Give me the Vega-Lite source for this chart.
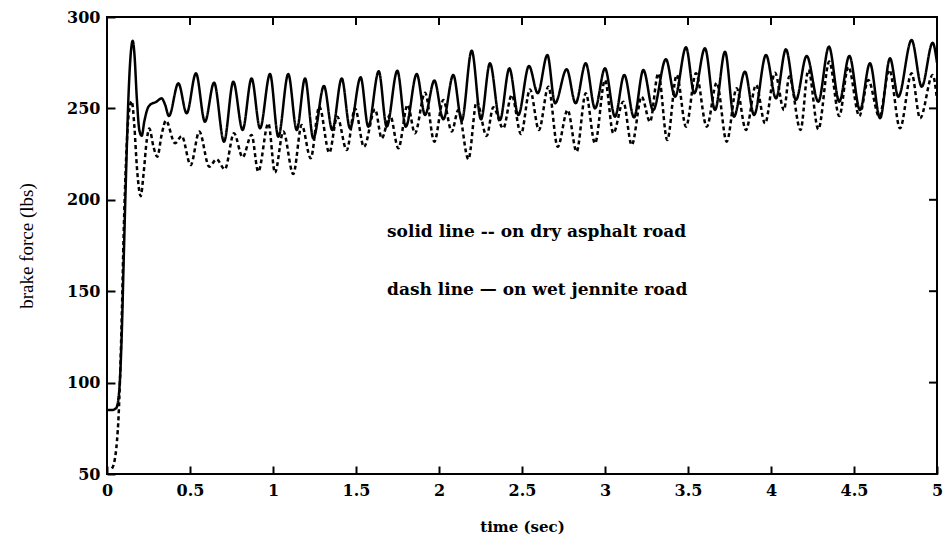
{
  "$schema": "https://vega.github.io/schema/vega-lite/v6.json",
  "width": 830,
  "height": 457,
  "autosize": "none",
  "padding": {"left": 107, "top": 17, "right": 8, "bottom": 66},
  "background": "white",
  "config": {
    "view": {"stroke": "black", "strokeWidth": 2},
    "axis": {
      "grid": false,
      "domain": false,
      "ticks": true,
      "offset": -8,
      "tickColor": "black",
      "tickOpacity": 1,
      "tickWidth": 2,
      "tickSize": 8,
      "labelColor": "black",
      "labelFont": "DejaVu Serif",
      "labelFontWeight": "bold",
      "labelFontSize": 16,
      "titleColor": "black"
    }
  },
  "datasets": {
    "force": [
      {"t": 0, "v": 85, "road": "dry asphalt"},
      {"t": 0.03, "v": 85, "road": "dry asphalt"},
      {"t": 0.055, "v": 86, "road": "dry asphalt"},
      {"t": 0.07, "v": 92, "road": "dry asphalt"},
      {"t": 0.08, "v": 105, "road": "dry asphalt"},
      {"t": 0.09, "v": 130, "road": "dry asphalt"},
      {"t": 0.1, "v": 165, "road": "dry asphalt"},
      {"t": 0.115, "v": 215, "road": "dry asphalt"},
      {"t": 0.13, "v": 258, "road": "dry asphalt"},
      {"t": 0.145, "v": 282, "road": "dry asphalt"},
      {"t": 0.155, "v": 287, "road": "dry asphalt"},
      {"t": 0.165, "v": 280, "road": "dry asphalt"},
      {"t": 0.18, "v": 255, "road": "dry asphalt"},
      {"t": 0.195, "v": 238, "road": "dry asphalt"},
      {"t": 0.209, "v": 235, "road": "dry asphalt"},
      {"t": 0.225, "v": 243, "road": "dry asphalt"},
      {"t": 0.245, "v": 250, "road": "dry asphalt"},
      {"t": 0.26, "v": 252, "road": "dry asphalt"},
      {"t": 0.295, "v": 253.5, "road": "dry asphalt"},
      {"t": 0.329, "v": 255.5, "road": "dry asphalt"},
      {"t": 0.35, "v": 252, "road": "dry asphalt"},
      {"t": 0.373, "v": 245.8, "road": "dry asphalt"},
      {"t": 0.43, "v": 263.7, "road": "dry asphalt"},
      {"t": 0.48, "v": 247.3, "road": "dry asphalt"},
      {"t": 0.536, "v": 269.2, "road": "dry asphalt"},
      {"t": 0.59, "v": 242.7, "road": "dry asphalt"},
      {"t": 0.645, "v": 264.1, "road": "dry asphalt"},
      {"t": 0.705, "v": 231.8, "road": "dry asphalt"},
      {"t": 0.761, "v": 264.6, "road": "dry asphalt"},
      {"t": 0.817, "v": 238.2, "road": "dry asphalt"},
      {"t": 0.871, "v": 266.4, "road": "dry asphalt"},
      {"t": 0.922, "v": 239.1, "road": "dry asphalt"},
      {"t": 0.982, "v": 268.8, "road": "dry asphalt"},
      {"t": 1.032, "v": 234.5, "road": "dry asphalt"},
      {"t": 1.092, "v": 268.8, "road": "dry asphalt"},
      {"t": 1.143, "v": 238.2, "road": "dry asphalt"},
      {"t": 1.193, "v": 266.4, "road": "dry asphalt"},
      {"t": 1.243, "v": 233.6, "road": "dry asphalt"},
      {"t": 1.307, "v": 262.3, "road": "dry asphalt"},
      {"t": 1.357, "v": 238.2, "road": "dry asphalt"},
      {"t": 1.414, "v": 266.4, "road": "dry asphalt"},
      {"t": 1.464, "v": 239.1, "road": "dry asphalt"},
      {"t": 1.528, "v": 267, "road": "dry asphalt"},
      {"t": 1.574, "v": 240, "road": "dry asphalt"},
      {"t": 1.637, "v": 270.3, "road": "dry asphalt"},
      {"t": 1.685, "v": 240, "road": "dry asphalt"},
      {"t": 1.749, "v": 270.6, "road": "dry asphalt"},
      {"t": 1.8, "v": 240, "road": "dry asphalt"},
      {"t": 1.866, "v": 268.8, "road": "dry asphalt"},
      {"t": 1.916, "v": 246.4, "road": "dry asphalt"},
      {"t": 1.972, "v": 265.2, "road": "dry asphalt"},
      {"t": 2.026, "v": 244, "road": "dry asphalt"},
      {"t": 2.086, "v": 268.3, "road": "dry asphalt"},
      {"t": 2.137, "v": 243.3, "road": "dry asphalt"},
      {"t": 2.197, "v": 281.6, "road": "dry asphalt"},
      {"t": 2.253, "v": 244, "road": "dry asphalt"},
      {"t": 2.307, "v": 274.7, "road": "dry asphalt"},
      {"t": 2.367, "v": 243.6, "road": "dry asphalt"},
      {"t": 2.424, "v": 271.9, "road": "dry asphalt"},
      {"t": 2.478, "v": 246.4, "road": "dry asphalt"},
      {"t": 2.542, "v": 273.2, "road": "dry asphalt"},
      {"t": 2.595, "v": 258.3, "road": "dry asphalt"},
      {"t": 2.653, "v": 279.2, "road": "dry asphalt"},
      {"t": 2.699, "v": 252.8, "road": "dry asphalt"},
      {"t": 2.769, "v": 271.4, "road": "dry asphalt"},
      {"t": 2.823, "v": 252.8, "road": "dry asphalt"},
      {"t": 2.884, "v": 274.7, "road": "dry asphalt"},
      {"t": 2.94, "v": 250, "road": "dry asphalt"},
      {"t": 3.0, "v": 271.9, "road": "dry asphalt"},
      {"t": 3.06, "v": 245.5, "road": "dry asphalt"},
      {"t": 3.116, "v": 268.3, "road": "dry asphalt"},
      {"t": 3.175, "v": 245.1, "road": "dry asphalt"},
      {"t": 3.231, "v": 271, "road": "dry asphalt"},
      {"t": 3.29, "v": 249, "road": "dry asphalt"},
      {"t": 3.367, "v": 276.9, "road": "dry asphalt"},
      {"t": 3.422, "v": 256.4, "road": "dry asphalt"},
      {"t": 3.488, "v": 283.4, "road": "dry asphalt"},
      {"t": 3.538, "v": 258.3, "road": "dry asphalt"},
      {"t": 3.602, "v": 282.9, "road": "dry asphalt"},
      {"t": 3.663, "v": 249.1, "road": "dry asphalt"},
      {"t": 3.723, "v": 281, "road": "dry asphalt"},
      {"t": 3.777, "v": 245.5, "road": "dry asphalt"},
      {"t": 3.843, "v": 270.1, "road": "dry asphalt"},
      {"t": 3.898, "v": 246.4, "road": "dry asphalt"},
      {"t": 3.97, "v": 279.2, "road": "dry asphalt"},
      {"t": 4.03, "v": 255.5, "road": "dry asphalt"},
      {"t": 4.09, "v": 282.3, "road": "dry asphalt"},
      {"t": 4.15, "v": 254.6, "road": "dry asphalt"},
      {"t": 4.215, "v": 278.7, "road": "dry asphalt"},
      {"t": 4.285, "v": 253.7, "road": "dry asphalt"},
      {"t": 4.349, "v": 283.8, "road": "dry asphalt"},
      {"t": 4.411, "v": 253.7, "road": "dry asphalt"},
      {"t": 4.472, "v": 278.7, "road": "dry asphalt"},
      {"t": 4.536, "v": 249.1, "road": "dry asphalt"},
      {"t": 4.596, "v": 274.7, "road": "dry asphalt"},
      {"t": 4.657, "v": 244.6, "road": "dry asphalt"},
      {"t": 4.717, "v": 277.4, "road": "dry asphalt"},
      {"t": 4.767, "v": 256.4, "road": "dry asphalt"},
      {"t": 4.847, "v": 287.4, "road": "dry asphalt"},
      {"t": 4.908, "v": 261.9, "road": "dry asphalt"},
      {"t": 4.974, "v": 285.9, "road": "dry asphalt"},
      {"t": 5.0, "v": 275, "road": "dry asphalt"},
      {"t": 0.03, "v": 53, "road": "wet jennite"},
      {"t": 0.045, "v": 57, "road": "wet jennite"},
      {"t": 0.06, "v": 68, "road": "wet jennite"},
      {"t": 0.07, "v": 82, "road": "wet jennite"},
      {"t": 0.078, "v": 101, "road": "wet jennite"},
      {"t": 0.09, "v": 140, "road": "wet jennite"},
      {"t": 0.1, "v": 180, "road": "wet jennite"},
      {"t": 0.115, "v": 222, "road": "wet jennite"},
      {"t": 0.13, "v": 246, "road": "wet jennite"},
      {"t": 0.149, "v": 254, "road": "wet jennite"},
      {"t": 0.165, "v": 240, "road": "wet jennite"},
      {"t": 0.18, "v": 218, "road": "wet jennite"},
      {"t": 0.203, "v": 202, "road": "wet jennite"},
      {"t": 0.22, "v": 214, "road": "wet jennite"},
      {"t": 0.24, "v": 233, "road": "wet jennite"},
      {"t": 0.255, "v": 239, "road": "wet jennite"},
      {"t": 0.28, "v": 229, "road": "wet jennite"},
      {"t": 0.303, "v": 223.6, "road": "wet jennite"},
      {"t": 0.33, "v": 236, "road": "wet jennite"},
      {"t": 0.355, "v": 243.3, "road": "wet jennite"},
      {"t": 0.41, "v": 230.9, "road": "wet jennite"},
      {"t": 0.45, "v": 234.9, "road": "wet jennite"},
      {"t": 0.504, "v": 219, "road": "wet jennite"},
      {"t": 0.556, "v": 237.3, "road": "wet jennite"},
      {"t": 0.616, "v": 218.1, "road": "wet jennite"},
      {"t": 0.66, "v": 222.2, "road": "wet jennite"},
      {"t": 0.71, "v": 216.7, "road": "wet jennite"},
      {"t": 0.765, "v": 236.4, "road": "wet jennite"},
      {"t": 0.817, "v": 223.3, "road": "wet jennite"},
      {"t": 0.871, "v": 235.5, "road": "wet jennite"},
      {"t": 0.911, "v": 215.4, "road": "wet jennite"},
      {"t": 0.972, "v": 241.8, "road": "wet jennite"},
      {"t": 1.012, "v": 214.8, "road": "wet jennite"},
      {"t": 1.062, "v": 237.3, "road": "wet jennite"},
      {"t": 1.122, "v": 214.1, "road": "wet jennite"},
      {"t": 1.173, "v": 240.9, "road": "wet jennite"},
      {"t": 1.227, "v": 222.7, "road": "wet jennite"},
      {"t": 1.279, "v": 251, "road": "wet jennite"},
      {"t": 1.339, "v": 225.8, "road": "wet jennite"},
      {"t": 1.387, "v": 245.5, "road": "wet jennite"},
      {"t": 1.444, "v": 227.2, "road": "wet jennite"},
      {"t": 1.494, "v": 250, "road": "wet jennite"},
      {"t": 1.548, "v": 229, "road": "wet jennite"},
      {"t": 1.615, "v": 249.5, "road": "wet jennite"},
      {"t": 1.655, "v": 233.6, "road": "wet jennite"},
      {"t": 1.705, "v": 246.4, "road": "wet jennite"},
      {"t": 1.755, "v": 228.2, "road": "wet jennite"},
      {"t": 1.811, "v": 251.9, "road": "wet jennite"},
      {"t": 1.855, "v": 236.4, "road": "wet jennite"},
      {"t": 1.916, "v": 258.6, "road": "wet jennite"},
      {"t": 1.972, "v": 231.8, "road": "wet jennite"},
      {"t": 2.026, "v": 254.6, "road": "wet jennite"},
      {"t": 2.077, "v": 237.3, "road": "wet jennite"},
      {"t": 2.116, "v": 249.1, "road": "wet jennite"},
      {"t": 2.177, "v": 222.2, "road": "wet jennite"},
      {"t": 2.227, "v": 253.7, "road": "wet jennite"},
      {"t": 2.287, "v": 234.9, "road": "wet jennite"},
      {"t": 2.327, "v": 250.6, "road": "wet jennite"},
      {"t": 2.387, "v": 239.1, "road": "wet jennite"},
      {"t": 2.438, "v": 257.3, "road": "wet jennite"},
      {"t": 2.494, "v": 236, "road": "wet jennite"},
      {"t": 2.548, "v": 260.4, "road": "wet jennite"},
      {"t": 2.602, "v": 238.2, "road": "wet jennite"},
      {"t": 2.659, "v": 261.9, "road": "wet jennite"},
      {"t": 2.715, "v": 229, "road": "wet jennite"},
      {"t": 2.775, "v": 249.1, "road": "wet jennite"},
      {"t": 2.829, "v": 226.3, "road": "wet jennite"},
      {"t": 2.884, "v": 258.3, "road": "wet jennite"},
      {"t": 2.94, "v": 230.9, "road": "wet jennite"},
      {"t": 3.0, "v": 265.5, "road": "wet jennite"},
      {"t": 3.05, "v": 236.4, "road": "wet jennite"},
      {"t": 3.11, "v": 253.7, "road": "wet jennite"},
      {"t": 3.161, "v": 230, "road": "wet jennite"},
      {"t": 3.221, "v": 256.4, "road": "wet jennite"},
      {"t": 3.271, "v": 242.7, "road": "wet jennite"},
      {"t": 3.321, "v": 269.2, "road": "wet jennite"},
      {"t": 3.375, "v": 232.7, "road": "wet jennite"},
      {"t": 3.432, "v": 268.3, "road": "wet jennite"},
      {"t": 3.488, "v": 240, "road": "wet jennite"},
      {"t": 3.548, "v": 269.2, "road": "wet jennite"},
      {"t": 3.613, "v": 240, "road": "wet jennite"},
      {"t": 3.673, "v": 264.1, "road": "wet jennite"},
      {"t": 3.733, "v": 231.8, "road": "wet jennite"},
      {"t": 3.793, "v": 261, "road": "wet jennite"},
      {"t": 3.849, "v": 238.2, "road": "wet jennite"},
      {"t": 3.91, "v": 262.8, "road": "wet jennite"},
      {"t": 3.964, "v": 241.8, "road": "wet jennite"},
      {"t": 4.024, "v": 269.5, "road": "wet jennite"},
      {"t": 4.078, "v": 249.1, "road": "wet jennite"},
      {"t": 4.11, "v": 267.4, "road": "wet jennite"},
      {"t": 4.178, "v": 238.2, "road": "wet jennite"},
      {"t": 4.225, "v": 271, "road": "wet jennite"},
      {"t": 4.285, "v": 238.6, "road": "wet jennite"},
      {"t": 4.351, "v": 275.6, "road": "wet jennite"},
      {"t": 4.411, "v": 245.8, "road": "wet jennite"},
      {"t": 4.466, "v": 272.8, "road": "wet jennite"},
      {"t": 4.532, "v": 245.8, "road": "wet jennite"},
      {"t": 4.586, "v": 265.5, "road": "wet jennite"},
      {"t": 4.652, "v": 245.5, "road": "wet jennite"},
      {"t": 4.713, "v": 271, "road": "wet jennite"},
      {"t": 4.777, "v": 239.1, "road": "wet jennite"},
      {"t": 4.847, "v": 269.2, "road": "wet jennite"},
      {"t": 4.898, "v": 244.6, "road": "wet jennite"},
      {"t": 4.974, "v": 268.3, "road": "wet jennite"},
      {"t": 5.0, "v": 255, "road": "wet jennite"}
    ],
    "topTicks": [
      {"t": 0.5}, {"t": 1}, {"t": 1.5}, {"t": 2}, {"t": 2.5},
      {"t": 3}, {"t": 3.5}, {"t": 4}, {"t": 4.5}
    ],
    "rightTicks": [
      {"v": 100}, {"v": 150}, {"v": 200}, {"v": 250}
    ],
    "notes": [
      {"t": 1.687, "v": 182.4, "label": "solid line -- on dry asphalt road"},
      {"t": 1.687, "v": 150.7, "label": "dash line \u2014 on wet jennite road"}
    ]
  },
  "layer": [
    {
      "data": {"name": "force"},
      "mark": {"type": "line", "interpolate": "monotone", "color": "black", "strokeWidth": 2.5, "clip": true},
      "encoding": {
        "x": {
          "field": "t", "type": "quantitative",
          "scale": {"domain": [0, 5], "nice": false, "zero": false},
          "axis": {
            "orient": "bottom", "values": [0, 0.5, 1, 1.5, 2, 2.5, 3, 3.5, 4, 4.5, 5], "format": "~g",
            "labelPadding": 8, "labelFlush": false,
            "title": "time (sec)", "titleFont": "DejaVu Serif", "titleFontWeight": "bold",
            "titleFontSize": 15, "titlePadding": 21
          }
        },
        "y": {
          "field": "v", "type": "quantitative",
          "scale": {"domain": [50, 300], "nice": false, "zero": false},
          "axis": {
            "orient": "left", "values": [50, 100, 150, 200, 250, 300],
            "labelPadding": 7, "labelFlush": false,
            "title": "brake force (lbs)", "titleFont": "Liberation Serif", "titleFontWeight": "normal",
            "titleFontSize": 19, "titlePadding": 30
          }
        },
        "detail": {"field": "road"},
        "strokeDash": {
          "field": "road", "type": "nominal",
          "scale": {"domain": ["dry asphalt", "wet jennite"], "range": [[1, 0], [4, 3]]},
          "legend": null
        }
      }
    },
    {
      "data": {"name": "topTicks"},
      "mark": {"type": "rule", "color": "black", "strokeWidth": 2},
      "encoding": {
        "x": {"field": "t", "type": "quantitative"},
        "y": {"datum": 300},
        "y2": {"datum": 295.6}
      }
    },
    {
      "data": {"name": "rightTicks"},
      "mark": {"type": "rule", "color": "black", "strokeWidth": 2},
      "encoding": {
        "y": {"field": "v", "type": "quantitative"},
        "x": {"datum": 5},
        "x2": {"datum": 4.952}
      }
    },
    {
      "data": {"name": "notes"},
      "mark": {"type": "text", "align": "left", "baseline": "middle", "font": "DejaVu Serif", "fontWeight": "bold", "fontSize": 17, "color": "black"},
      "encoding": {
        "x": {"field": "t", "type": "quantitative"},
        "y": {"field": "v", "type": "quantitative"},
        "text": {"field": "label"}
      }
    }
  ]
}
